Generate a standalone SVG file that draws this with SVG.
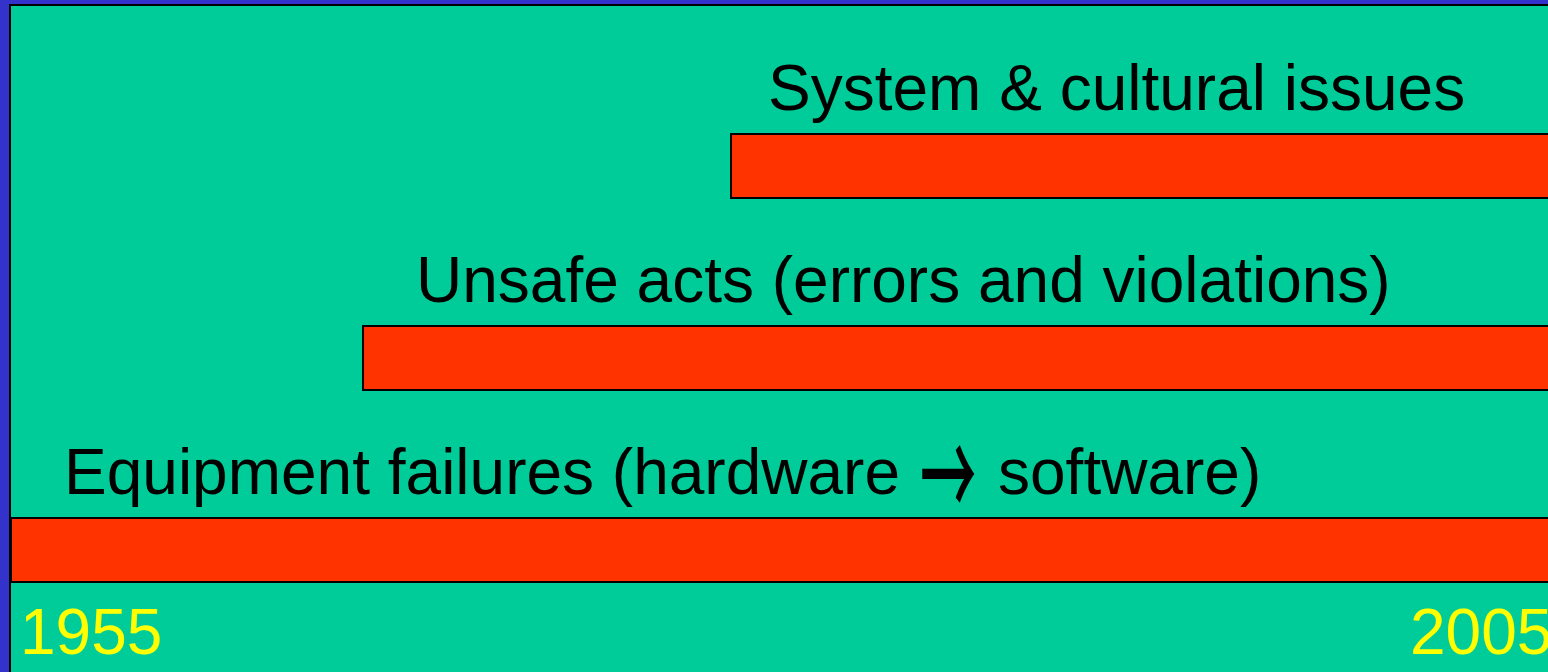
<svg xmlns="http://www.w3.org/2000/svg" width="1548" height="672" viewBox="0 0 1548 672">
  <style>
    .bar { fill: #FF3300; stroke: #000000; stroke-width: 2; }
    .label { font-family: "Liberation Sans", Arial, sans-serif; font-size: 64px; fill: #000000; }
    .arrow { font-family: "Noto Sans CJK SC", sans-serif; font-size: 64px; font-weight: 500; fill: #000000; }
    .year { font-family: "Liberation Sans", Arial, sans-serif; font-size: 64px; fill: #FFFF00; }
  </style>
  <!-- slide frame -->
  <rect x="0" y="0" width="1548" height="672" fill="#3333CC"/>
  <rect x="10" y="5" width="1548" height="680" fill="#00CC99" stroke="#000000" stroke-width="2"/>

  <g id="system-cultural">
    <text class="label" x="768" y="110">System &amp; cultural issues</text>
    <rect class="bar" x="731" y="134" width="830" height="64"/>
  </g>

  <g id="unsafe-acts">
    <text class="label" x="416" y="302">Unsafe acts (errors and violations)</text>
    <rect class="bar" x="363" y="326" width="1200" height="64"/>
  </g>

  <g id="equipment-failures">
    <text class="label" x="64" y="494">Equipment failures (hardware <tspan x="998">software)</tspan></text>
    <!-- open-chevron arrow between the two words, stretched to a taller head -->
    <text class="arrow" transform="translate(920,520) scale(0.88,1.9)">→</text>
    <rect class="bar" x="11" y="518" width="1550" height="64"/>
  </g>

  <g id="axis">
    <text class="year" x="20" y="654">1955</text>
    <text class="year" x="1410" y="654">2005</text>
  </g>
</svg>
